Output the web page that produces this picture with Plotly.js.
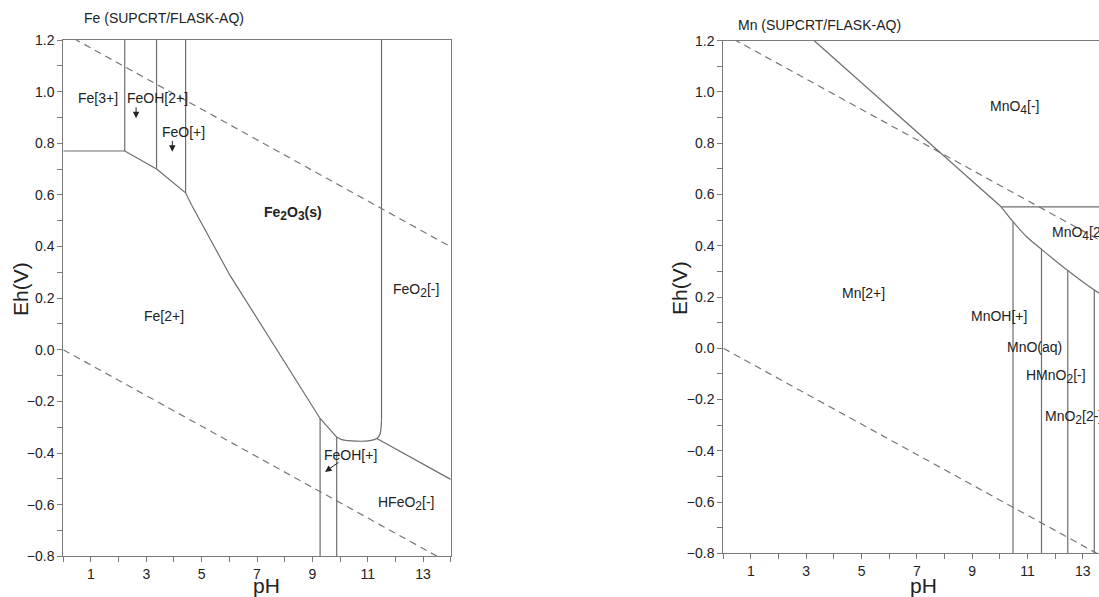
<!DOCTYPE html>
<html>
<head>
<meta charset="utf-8">
<script src="https://cdn.plot.ly/plotly-3.0.1.min.js"></script>
<style>html,body{margin:0;padding:0;background:#fff;}#chart{width:1099px;height:597px;}</style>
</head>
<body>
<div id="chart"></div>
<script>
// ---------- Water stability lines (both diagrams) ----------
const waterUpperPH = [0, 14];
const waterUpperEh = [1.228, 0.399];
const waterLowerPH = [0, 14];
const waterLowerEh = [0.0, -0.829];

// ---------- Fe diagram boundaries ----------
const feFe3Fe2PH = [0, 2.22];            const feFe3Fe2Eh = [0.77, 0.77];
const feFe3FeOHPH = [2.22, 2.22];        const feFe3FeOHEh = [0.77, 1.2];
const feFeOHFe2PH = [2.22, 3.37];        const feFeOHFe2Eh = [0.77, 0.70];
const feFeOHFeOPH = [3.37, 3.37];        const feFeOHFeOEh = [0.70, 1.2];
const feFeOFe2PH = [3.37, 4.42, 4.64];   const feFeOFe2Eh = [0.70, 0.608, 0.56];
const feFeOHemPH = [4.42, 4.42];         const feFeOHemEh = [0.608, 1.2];
const feFe2HemPH = [4.64, 6.02, 9.28, 9.88];
const feFe2HemEh = [0.56, 0.289, -0.266, -0.338];
const feFeOHpLeftPH = [9.28, 9.28];      const feFeOHpLeftEh = [-0.266, -0.8];
const feFeOHpRightPH = [9.88, 9.88];     const feFeOHpRightEh = [-0.338, -0.8];
const feHFeO2HemPH = [9.88, 10.06, 10.6, 11.08, 11.33, 11.45, 11.49, 11.5];
const feHFeO2HemEh = [-0.338, -0.348, -0.354, -0.352, -0.344, -0.325, -0.293, -0.27];
const feFeO2HemPH = [11.5, 11.5];        const feFeO2HemEh = [-0.27, 1.2];
const feHFeO2FeO2PH = [11.33, 14];       const feHFeO2FeO2Eh = [-0.344, -0.502];

// ---------- Mn diagram boundaries ----------
const mnMn2MnO4PH = [3.29, 10.05];       const mnMn2MnO4Eh = [1.2, 0.552];
const mnMnO4MnO42PH = [10.05, 14];       const mnMnO4MnO42Eh = [0.552, 0.552];
const mnLowerCurvePH = [10.05, 10.48, 10.98, 11.51, 12.46, 13.42, 14];
const mnLowerCurveEh = [0.552, 0.494, 0.434, 0.386, 0.303, 0.227, 0.19];
const mnV1PH = [10.48, 10.48];           const mnV1Eh = [0.494, -0.8];
const mnV2PH = [11.51, 11.51];           const mnV2Eh = [0.386, -0.8];
const mnV3PH = [12.46, 12.46];           const mnV3Eh = [0.303, -0.8];
const mnV4PH = [13.42, 13.42];           const mnV4Eh = [0.227, -0.8];

// ---------- Labels ----------
function sub(s) { return '<sub><span style="font-size:12px">' + s + '</span></sub>'; }
const feLabelText = ['Fe[3+]', 'FeOH[2+]', 'FeO[+]', '<b>Fe' + sub('2') + 'O' + sub('3') + '(s)</b>', 'FeO' + sub('2') + '[-]', 'Fe[2+]', 'FeOH[+]', 'HFeO' + sub('2') + '[-]'];
const feLabelPH = [1.24, 3.42, 4.34, 8.31, 12.75, 3.65, 10.37, 12.4];
const feLabelEh = [0.976, 0.976, 0.845, 0.528, 0.231, 0.130, -0.406, -0.596];

const mnLabelText = ['MnO' + sub('4') + '[-]', 'Mn[2+]', 'MnOH[+]', 'MnO(aq)', 'HMnO' + sub('2') + '[-]'];
const mnLabelPH = [10.54, 5.08, 9.99, 11.26, 12.03];
const mnLabelEh = [0.94, 0.214, 0.126, 0.004, -0.111];
// left-anchored labels cut by the right edge
const mnEdgeLabelText = ['MnO' + sub('4') + '[2-]', 'MnO' + sub('2') + '[2-]'];
const mnEdgeLabelPH = [11.82, 11.58];
const mnEdgeLabelEh = [0.449, -0.27];

// arrows: tail and head positions
const feArrowTailPH = [2.63, 3.94, 10.0];
const feArrowTailEh = [0.945, 0.815, -0.432];
const feArrowHeadPH = [2.63, 3.94, 9.46];
const feArrowHeadEh = [0.897, 0.767, -0.473];

const xTickLabels = ['1', '3', '5', '7', '9', '11', '13'];

// ---------- Build ----------
const LINE = '#6e6e6e';
const AX = '#7a7a7a';
const TXT = '#222';
const traces = [];
function seg(x, y, xa, ya, shape) {
  traces.push({x: x, y: y, xaxis: xa, yaxis: ya, mode: 'lines', type: 'scatter',
    line: {color: LINE, width: 1.2, shape: shape || 'linear', smoothing: 0.8}, hoverinfo: 'skip'});
}
function dashed(x, y, xa, ya) {
  traces.push({x: x, y: y, xaxis: xa, yaxis: ya, mode: 'lines', type: 'scatter',
    line: {color: '#777', width: 1.2, dash: '7px,5px'}, hoverinfo: 'skip'});
}
// Fe
dashed(waterUpperPH, waterUpperEh, 'x', 'y');
dashed(waterLowerPH, waterLowerEh, 'x', 'y');
[[feFe3Fe2PH, feFe3Fe2Eh], [feFe3FeOHPH, feFe3FeOHEh], [feFeOHFe2PH, feFeOHFe2Eh],
 [feFeOHFeOPH, feFeOHFeOEh], [feFeOFe2PH, feFeOFe2Eh], [feFeOHemPH, feFeOHemEh],
 [feFe2HemPH, feFe2HemEh], [feFeOHpLeftPH, feFeOHpLeftEh], [feFeOHpRightPH, feFeOHpRightEh],
 [feFeO2HemPH, feFeO2HemEh], [feHFeO2FeO2PH, feHFeO2FeO2Eh]
].forEach(p => seg(p[0], p[1], 'x', 'y'));
seg(feHFeO2HemPH, feHFeO2HemEh, 'x', 'y', 'spline');
// Mn
dashed(waterUpperPH, waterUpperEh, 'x2', 'y2');
dashed(waterLowerPH, waterLowerEh, 'x2', 'y2');
[[mnMn2MnO4PH, mnMn2MnO4Eh], [mnMnO4MnO42PH, mnMnO4MnO42Eh],
 [mnV1PH, mnV1Eh], [mnV2PH, mnV2Eh], [mnV3PH, mnV3Eh], [mnV4PH, mnV4Eh]
].forEach(p => seg(p[0], p[1], 'x2', 'y2'));
seg(mnLowerCurvePH, mnLowerCurveEh, 'x2', 'y2', 'spline');

const annotations = [];
feLabelText.forEach((t, i) => annotations.push({x: feLabelPH[i], y: feLabelEh[i], xref: 'x', yref: 'y',
  text: t, showarrow: false, font: {size: 14, color: TXT}}));
mnLabelText.forEach((t, i) => annotations.push({x: mnLabelPH[i], y: mnLabelEh[i], xref: 'x2', yref: 'y2',
  text: t, showarrow: false, font: {size: 14, color: TXT}}));
mnEdgeLabelText.forEach((t, i) => annotations.push({x: mnEdgeLabelPH[i], y: mnEdgeLabelEh[i], xref: 'x2', yref: 'y2',
  text: t, showarrow: false, xanchor: 'left', font: {size: 14, color: TXT}}));
feArrowHeadPH.forEach((h, i) => annotations.push({x: h, y: feArrowHeadEh[i], xref: 'x', yref: 'y',
  ax: feArrowTailPH[i], ay: feArrowTailEh[i], axref: 'x', ayref: 'y', text: '', showarrow: true,
  arrowhead: 2, arrowsize: 1.3, arrowwidth: 1, arrowcolor: '#222'}));

function px(x) { return x / 1099; }
function py(y) { return 1 - y / 597; }
// titles
annotations.push({x: px(82), y: py(18), xref: 'paper', yref: 'paper', xanchor: 'left', yanchor: 'middle',
  text: 'Fe (SUPCRT/FLASK-AQ)', showarrow: false, font: {size: 14, color: TXT}});
annotations.push({x: px(736), y: py(25), xref: 'paper', yref: 'paper', xanchor: 'left', yanchor: 'middle',
  text: 'Mn (SUPCRT/FLASK-AQ)', showarrow: false, font: {size: 14, color: TXT}});
// axis titles
annotations.push({x: px(266), y: py(585), xref: 'paper', yref: 'paper', xanchor: 'center', yanchor: 'middle',
  text: 'pH', showarrow: false, font: {size: 21, color: TXT}});
annotations.push({x: px(923), y: py(585), xref: 'paper', yref: 'paper', xanchor: 'center', yanchor: 'middle',
  text: 'pH', showarrow: false, font: {size: 21, color: TXT}});
annotations.push({x: px(20), y: py(289), xref: 'paper', yref: 'paper', xanchor: 'center', yanchor: 'middle',
  text: 'Eh(V)', textangle: -90, showarrow: false, font: {size: 21, color: TXT}});
annotations.push({x: px(679), y: py(288), xref: 'paper', yref: 'paper', xanchor: 'center', yanchor: 'middle',
  text: 'Eh(V)', textangle: -90, showarrow: false, font: {size: 21, color: TXT}});

function xAxis(domain, range, anchor) {
  return {domain: domain, range: range, anchor: anchor, showline: true, linecolor: AX, linewidth: 1,
    mirror: true, showgrid: false, zeroline: false, ticks: 'outside', ticklen: 5, tickcolor: AX,
    tickmode: 'array', tickvals: xTickLabels.map(Number), ticktext: xTickLabels,
    tickfont: {size: 14, color: TXT},
    minor: {tickmode: 'linear', tick0: 0, dtick: 1, ticks: 'outside', ticklen: 5, tickcolor: AX},
    fixedrange: true};
}
function yAxis(domain, anchor, mirror) {
  return {domain: domain, range: [-0.8, 1.2], anchor: anchor, showline: true, linecolor: AX, linewidth: 1,
    mirror: mirror, showgrid: false, zeroline: false, ticks: 'outside', ticklen: 5, tickcolor: AX,
    tickmode: 'linear', tick0: -0.8, dtick: 0.2, tickformat: '.1f',
    tickfont: {size: 14, color: TXT},
    minor: {tickmode: 'linear', tick0: -0.8, dtick: 0.1, ticks: 'outside', ticklen: 5, tickcolor: AX},
    fixedrange: true};
}

const layout = {
  width: 1099, height: 597, margin: {l: 0, r: 0, t: 0, b: 0},
  paper_bgcolor: '#fff', plot_bgcolor: '#fff', showlegend: false,
  font: {family: '"Liberation Sans", Arial, Helvetica, sans-serif', size: 14, color: TXT},
  xaxis: xAxis([px(63.3), px(450.7)], [0, 14], 'y'),
  yaxis: yAxis([py(556.3), py(40)], 'x', true),
  xaxis2: xAxis([px(723.3), 1], [0, 13.59], 'y2'),
  yaxis2: yAxis([py(553.3), py(40.7)], 'x2', false),
  annotations: annotations
};

Plotly.newPlot('chart', traces, layout, {displayModeBar: false, staticPlot: true});
</script>
</body>
</html>
